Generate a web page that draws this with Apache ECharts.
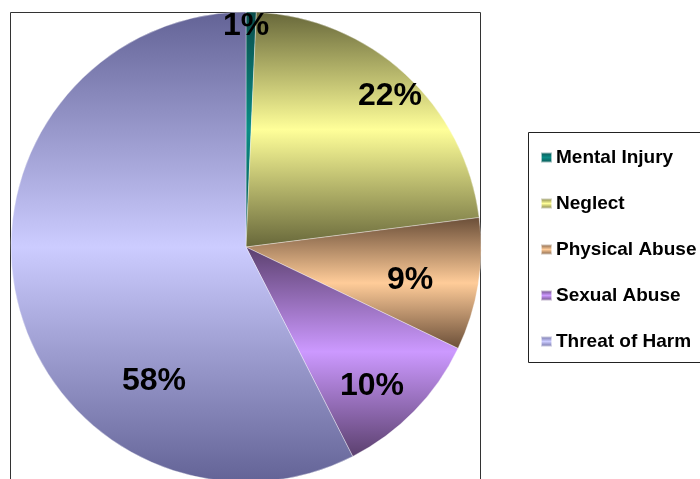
<!DOCTYPE html>
<html>
<head>
<meta charset="utf-8">
<script src="https://cdn.jsdelivr.net/npm/echarts@6/dist/echarts.min.js"></script>
<style>
html,body{margin:0;padding:0;background:#fff;}
#chart{width:700px;height:479px;}
</style>
</head>
<body>
<div id="chart"></div>
<script>
// Data
const categories = ['Mental Injury', 'Neglect', 'Physical Abuse', 'Sexual Abuse', 'Threat of Harm'];
const values = [0.7, 22.3, 9.1, 10.4, 57.5];

// Styles (dark edge / light centre of each slice's gradient)
const darkColors  = ['#0a4d4b', '#67673a', '#6a4e38', '#5b406e', '#636396'];
const lightColors = ['#0b8c86', '#ffff99', '#ffcc99', '#cc99ff', '#ccccff'];
// label anchor positions (pixels)
const labelPos = [[246, 26], [390, 96], [410, 280], [372, 386], [154, 381]];

function grad(i) {
  return new echarts.graphic.LinearGradient(0, 0, 0, 1, [
    {offset: 0, color: darkColors[i]},
    {offset: 0.5, color: lightColors[i]},
    {offset: 1, color: darkColors[i]}
  ]);
}

const chart = echarts.init(document.getElementById('chart'), null, {renderer: 'canvas'});
chart.setOption({
  animation: false,
  backgroundColor: '#ffffff',
  graphic: [
    {type: 'rect', z: 0, shape: {x: 10.5, y: 12.5, width: 470, height: 480},
     style: {fill: 'none', stroke: '#333', lineWidth: 1}},
    {type: 'rect', z: 0, shape: {x: 528.5, y: 132.5, width: 180, height: 230},
     style: {fill: '#fff', stroke: '#222', lineWidth: 1}}
  ],
  legend: {
    orient: 'vertical',
    left: 540,
    top: 148,
    padding: 0,
    itemWidth: 11,
    itemHeight: 10,
    itemGap: 27,
    icon: 'rect',
    data: categories,
    textStyle: {fontFamily: 'Liberation Sans, Arial, sans-serif', fontWeight: 'bold', fontSize: 19, color: '#000', padding: [0, 0, 0, -1]}
  },
  series: [{
    type: 'pie',
    center: [246, 247],
    radius: [0, 235],
    startAngle: 90,
    clockwise: true,
    z: 2,
    data: categories.map((c, i) => ({name: c, value: values[i], itemStyle: {color: grad(i)}})),
    itemStyle: {borderColor: 'rgba(255,255,255,0.6)', borderWidth: 0.6},
    emphasis: {disabled: true},
    label: {
      show: true,
      position: 'inside',
      formatter: p => Math.round(p.percent) + '%',
      fontFamily: 'Liberation Sans, Arial, sans-serif',
      fontWeight: 'bold',
      fontSize: 32,
      color: '#000'
    },
    labelLine: {show: false},
    labelLayout: function (params) {
      const p = labelPos[params.dataIndex];
      return {x: p[0], y: p[1], align: 'center', verticalAlign: 'middle'};
    }
  }]
});
</script>
</body>
</html>
